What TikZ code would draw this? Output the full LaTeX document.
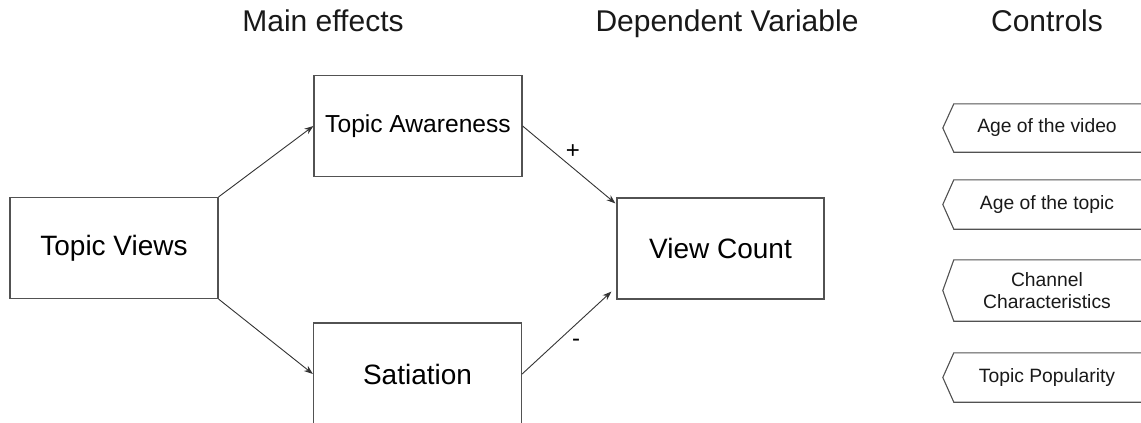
\documentclass[tikz,border=0pt]{standalone}
\usepackage{fontspec}
\setmainfont{Liberation Sans}
\usetikzlibrary{arrows.meta,calc}

\tikzset{
  box/.style={draw=black!68, line width=1.2pt, fill=white, inner sep=0pt,
    minimum width=208pt, minimum height=101pt, font=\fontsize{28}{32}\selectfont},
  header/.style={inner sep=0pt, anchor=base, font=\fontsize{30}{34}\selectfont, text=black!90},
  ctrl/.style={inner sep=0pt, minimum width=208pt, align=center,
    font=\fontsize{19.3}{22}\selectfont, text=black!90},
  ctrlshape/.style={draw=black!68, line width=1.1pt},
  link/.style={draw=black!80, line width=0.9pt, -{Stealth[length=9pt,width=6.5pt]}},
  sign/.style={inner sep=0pt, font=\fontsize{24}{28}\selectfont}
}

\begin{document}
\begin{tikzpicture}[x=1pt, y=-1pt]
  \useasboundingbox (0,0) rectangle (1141,423);
  \clip (0,0) rectangle (1141,423);

  % column headers
  \node[header] (hmain) at (323,31) {Main effects};
  \node[header] (hdep)  at (727,31) {Dependent Variable};
  \node[header] (hctl)  at (1047,31) {Controls};

  % model boxes
  \node[box] (tv)  at (114,248)    {Topic Views};
  \node[box, font=\fontsize{24.6}{28}\selectfont] (ta) at (418,126) {Topic Awareness};
  \node[box, minimum height=102pt] (sat) at (417.5,374) {Satiation};
  \node[box, minimum width=207pt] (vc)  at (720.5,248.5) {View Count};

  % paths
  \draw[link] (tv.north east) -- (ta.west);
  \draw[link] (tv.south east) -- (sat.west);
  \draw[link] (ta.east) -- ($(vc.north west)+(-1,6)$);
  \draw[link] (sat.east) -- ($(vc.south west)+(-5,-8)$);

  \node[sign] (plus)  at (573,152) {+};
  \node[sign] (minus) at (576,343) {-};

  % control variables
  \node[ctrl, minimum height=48pt] (c1) at (1047,128)   {Age of the video};
  \node[ctrl, minimum height=49pt] (c2) at (1047,204.5) {Age of the topic};
  \node[ctrl, minimum height=61pt] (c3) at (1047,290.5) {Channel\\Characteristics};
  \node[ctrl, minimum height=49pt] (c4) at (1047,377.5) {Topic Popularity};

  \foreach \c in {c1,c2,c3,c4}{
    \draw[ctrlshape] (\c.north east) -- ([xshift=11pt]\c.north west) -- (\c.west)
      -- ([xshift=11pt]\c.south west) -- (\c.south east);
  }
\end{tikzpicture}
\end{document}
